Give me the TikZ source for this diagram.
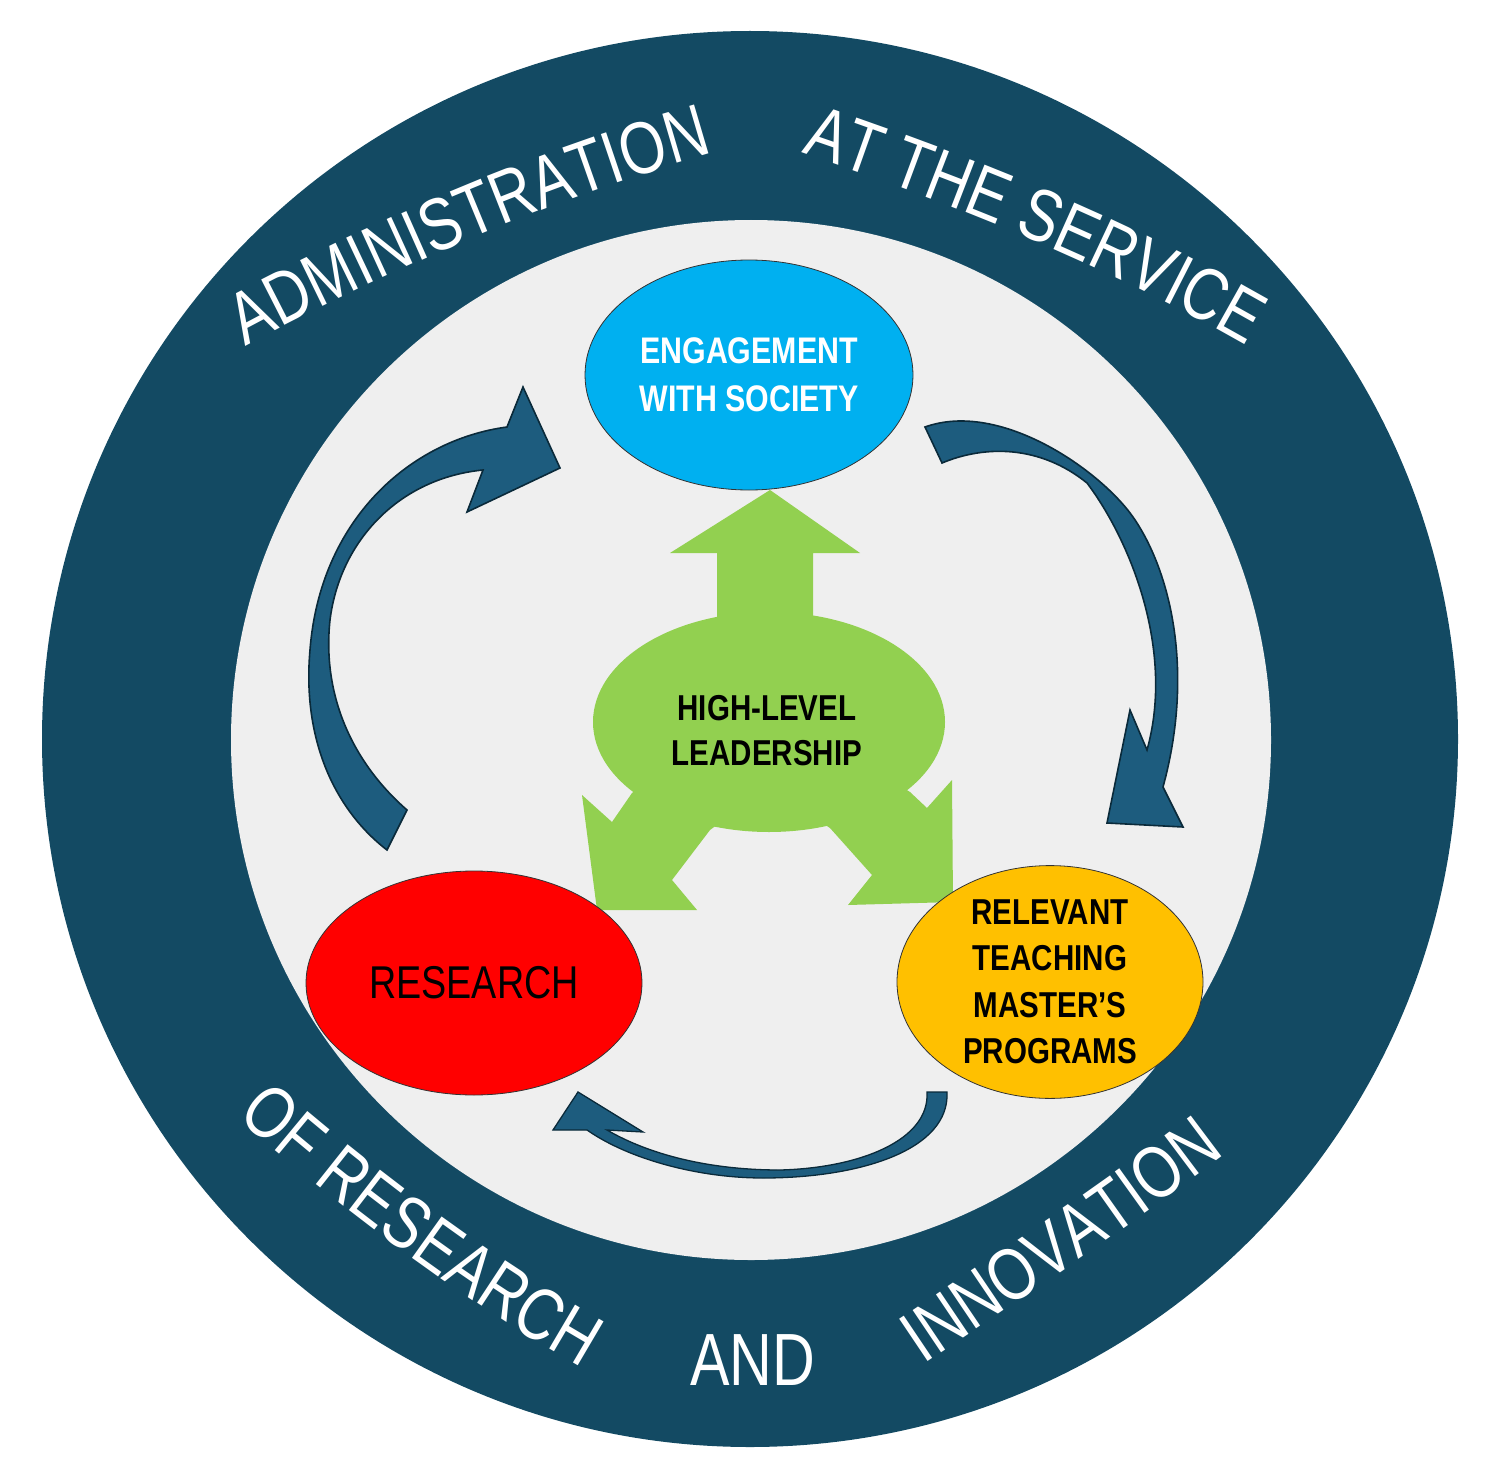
\documentclass[tikz,border=0pt]{standalone}
\usepackage{fontspec}
\usetikzlibrary{shapes.geometric,decorations.text}
\newfontfamily\arcfam{Liberation Sans}[FakeStretch=0.8]
\newfontfamily\inner{Liberation Sans}[FakeStretch=0.82]
\newcommand\arcf{\arcfam\fontsize{74}{76}\selectfont\color{white}}
\definecolor{ring}{HTML}{134A63}
\definecolor{disc}{HTML}{EFEFEF}
\definecolor{arr}{HTML}{1D5C7E}
\definecolor{arrline}{HTML}{0A2A3A}
\definecolor{eng}{HTML}{00B0F0}
\definecolor{gold}{HTML}{FFC000}
\definecolor{leaf}{HTML}{92D050}
\begin{document}
\begin{tikzpicture}[x=1pt,y=-1pt,
  blob/.style={ellipse,draw=black!80,line width=0.8pt,inner sep=0pt,align=center},
  curv/.style={fill=arr,draw=arrline,line width=1.6pt,line join=miter},
  arctext/.style={decorate,decoration={text along path,text align=center,text={|\arcf|#1}}}]
\useasboundingbox (0,0) rectangle (1494,1482);
\fill[white] (0,0) rectangle (1494,1482);
\fill[ring] (750,739) circle (708);
\fill[disc] (751,740) circle (520);
% ring texts
\path[arctext={ADMINISTRATION}] (236,352) .. controls (390,268) and (560,195) .. (724,150);
\path[arctext={AT THE SERVICE}] (803,153) .. controls (950,203) and (1100,262) .. (1245,345);
\path[arctext={OF RESEARCH}] (228,1110) .. controls (330,1200) and (460,1300) .. (592,1374);
\path[arctext={AND}] (670,1385) -- (835,1385);
\path[arctext={INNOVATION}] (910,1374) .. controls (1020,1300) and (1140,1220) .. (1238,1144);
% green leadership shape
\fill[leaf] (769,722) ellipse (176 and 110);
\fill[leaf] (717,625) -- (717,553) -- (670,553) -- (770,490) -- (860,553) -- (813,553) -- (813,625) -- cycle;
\fill[leaf] (650,780) -- (632,793) -- (612,822) -- (582,795) -- (597,910) -- (697,910) -- (672,880) -- (710,830) -- (730,815) -- cycle;
\fill[leaf] (890,780) -- (910,792) -- (927,808) -- (952,780) -- (953,902) -- (848,905) -- (872,875) -- (830,828) -- (810,815) -- cycle;
\node[font=\inner\bfseries\fontsize{36}{45}\selectfont,align=center] (lead) at (767,731) {HIGH-LEVEL\\LEADERSHIP};
% ellipses
\node[blob,fill=eng,minimum width=328,minimum height=230,text=white,font=\inner\bfseries\fontsize{37}{48}\selectfont] (eng) at (749,375) {ENGAGEMENT\\WITH SOCIETY};
\node[blob,fill=red,minimum width=336,minimum height=224,font=\inner\fontsize{46}{50}\selectfont] (res) at (474,983) {RESEARCH};
\node[blob,fill=gold,minimum width=306,minimum height=224,font=\inner\bfseries\fontsize{36}{46.5}\selectfont] (teach) at (1050,982) {RELEVANT\\TEACHING\\MASTER’S\\PROGRAMS};
% curved arrows
\draw[curv] (507,427) .. controls (410,440) and (320,520) .. (310,650)
  .. controls (302,740) and (335,810) .. (387,850) -- (407,810)
  .. controls (352,762) and (322,695) .. (330,620)
  .. controls (340,540) and (400,478) .. (483,470) -- (467,512) -- (560,468) -- (523,387) -- cycle;
\draw[curv] (925,427) .. controls (1000,400) and (1100,470) .. (1133,517)
  .. controls (1170,570) and (1195,670) .. (1163,787) -- (1183,827) -- (1107,823) -- (1130,710) -- (1147,750)
  .. controls (1175,650) and (1130,540) .. (1087,483)
  .. controls (1040,445) and (985,445) .. (942,463) -- cycle;
\draw[curv,line width=1.3pt] (947,1092) .. controls (950,1150) and (860,1178) .. (763,1178)
  .. controls (700,1178) and (630,1160) .. (587,1130) -- (553,1130) -- (578,1092) -- (643,1132) -- (607,1130)
  .. controls (650,1155) and (710,1170) .. (780,1170)
  .. controls (860,1168) and (930,1140) .. (927,1092) -- cycle;
\end{tikzpicture}
\end{document}
